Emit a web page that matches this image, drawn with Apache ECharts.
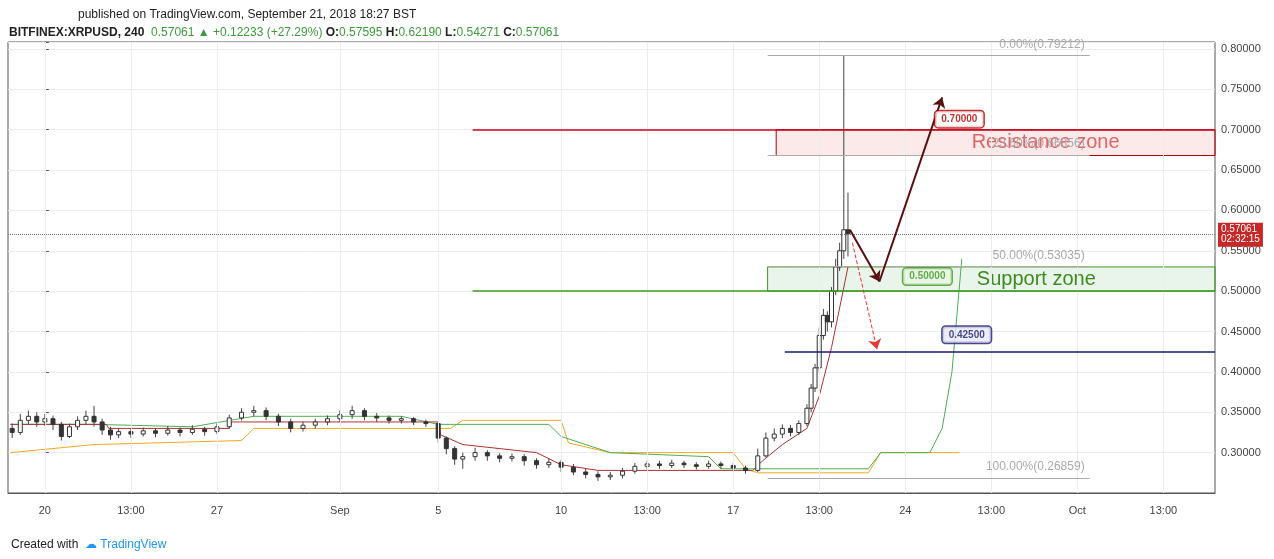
<!DOCTYPE html>
<html><head><meta charset="utf-8">
<script src="https://cdn.jsdelivr.net/npm/echarts@6/dist/echarts.min.js"></script>
<style>html,body{margin:0;background:#fff}#c{width:1274px;height:559px}</style>
</head><body><div id="c"></div>
<script>
// [day since Aug 20, open, close, low, high]
const candles = [
[-1.33,0.330,0.325,0.318,0.336],[-1.0,0.325,0.340,0.322,0.348],[-0.67,0.340,0.345,0.335,0.352],[-0.33,0.345,0.338,0.332,0.350],
[0,0.338,0.342,0.333,0.348],[0.33,0.342,0.335,0.328,0.346],[0.67,0.335,0.320,0.315,0.338],[1.0,0.320,0.332,0.318,0.336],
[1.33,0.332,0.340,0.328,0.345],[1.67,0.340,0.345,0.335,0.352],[2.0,0.345,0.338,0.332,0.358],[2.33,0.338,0.328,0.322,0.342],
[2.67,0.328,0.322,0.316,0.332],[3.0,0.322,0.326,0.318,0.330],[3.5,0.326,0.323,0.318,0.330],[4.0,0.323,0.327,0.320,0.331],
[4.5,0.327,0.324,0.319,0.330],[5.0,0.324,0.328,0.321,0.333],[5.5,0.328,0.325,0.320,0.331],[6.0,0.325,0.329,0.322,0.334],
[6.5,0.329,0.326,0.321,0.332],[7.0,0.326,0.332,0.323,0.336],[7.5,0.332,0.343,0.330,0.347],[8.0,0.343,0.350,0.340,0.355],
[8.5,0.350,0.352,0.345,0.358],[9.0,0.352,0.345,0.340,0.356],[9.5,0.345,0.338,0.333,0.348],[10.0,0.338,0.330,0.325,0.342],
[10.5,0.330,0.334,0.326,0.338],[11.0,0.334,0.338,0.330,0.342],[11.5,0.338,0.342,0.334,0.346],[12.0,0.342,0.347,0.338,0.352],
[12.5,0.347,0.352,0.342,0.358],[13.0,0.352,0.345,0.340,0.355],[13.5,0.345,0.343,0.338,0.349],[14.0,0.343,0.340,0.336,0.346],
[14.5,0.340,0.342,0.336,0.345],[15.0,0.342,0.338,0.334,0.344],[15.5,0.338,0.336,0.332,0.341],[16.0,0.336,0.318,0.312,0.338],
[16.33,0.318,0.305,0.298,0.320],[16.67,0.305,0.292,0.285,0.308],[17.0,0.292,0.295,0.280,0.300],[17.5,0.295,0.300,0.290,0.306],
[18.0,0.300,0.296,0.290,0.303],[18.5,0.296,0.293,0.288,0.299],[19.0,0.293,0.295,0.289,0.299],[19.5,0.295,0.290,0.284,0.298],
[20.0,0.290,0.285,0.280,0.293],[20.5,0.285,0.288,0.281,0.292],[21.0,0.288,0.282,0.276,0.291],[21.5,0.282,0.276,0.272,0.286],
[22.0,0.276,0.273,0.268,0.280],[22.5,0.273,0.270,0.265,0.277],[23.0,0.270,0.272,0.266,0.276],[23.5,0.272,0.277,0.268,0.281],
[24.0,0.277,0.283,0.274,0.287],[24.5,0.283,0.286,0.279,0.290],[25.0,0.286,0.284,0.280,0.290],[25.5,0.284,0.287,0.281,0.291],
[26.0,0.287,0.285,0.281,0.290],[26.5,0.285,0.283,0.279,0.288],[27.0,0.283,0.286,0.280,0.290],[27.5,0.286,0.284,0.280,0.289],
[28.0,0.284,0.281,0.277,0.287],[28.5,0.281,0.278,0.274,0.284],[29.0,0.278,0.296,0.276,0.305],[29.33,0.296,0.318,0.294,0.325],
[29.67,0.318,0.323,0.314,0.330],[30.0,0.323,0.330,0.318,0.335],[30.33,0.330,0.325,0.320,0.334],[30.67,0.325,0.336,0.322,0.340],
[31.0,0.336,0.355,0.333,0.360],[31.17,0.355,0.380,0.350,0.385],[31.33,0.380,0.405,0.375,0.410],[31.5,0.405,0.445,0.400,0.455],
[31.67,0.445,0.470,0.440,0.478],[31.83,0.470,0.462,0.450,0.475],[32.0,0.462,0.500,0.455,0.505],[32.17,0.500,0.530,0.495,0.540],
[32.33,0.530,0.550,0.525,0.560],[32.5,0.550,0.576,0.540,0.792],[32.67,0.576,0.571,0.543,0.622]];
const kijun = [[-1.4,0.335],[2.5,0.335],[2.6,0.330],[7.5,0.330],[7.6,0.338],[16,0.338],[16.1,0.322],[17,0.31],[20,0.30],[21,0.285],[22.5,0.278],[28.8,0.278],[29.2,0.29],[30,0.31],[31,0.33],[31.5,0.37],[32,0.43],[32.67,0.53]];
const spanA = [[-1.4,0.335],[2,0.335],[6,0.332],[8.5,0.345],[14.5,0.345],[16,0.335],[20.5,0.335],[21,0.32],[23,0.30],[27,0.295],[27.5,0.28],[33.5,0.28],[34,0.30],[36,0.30],[36.5,0.33],[36.9,0.40],[37.3,0.54]];
const spanB = [[-1.4,0.30],[2,0.31],[8,0.315],[8.5,0.33],[16.5,0.33],[17,0.34],[21,0.34],[21.3,0.312],[23,0.30],[28,0.30],[28.5,0.28],[29,0.275],[33.5,0.275],[34,0.30],[37.2,0.30]];
const xLabels = {'0.0':'20','3.5':'13:00','7.0':'27','12.0':'Sep','16.0':'5','21.0':'10','24.5':'13:00','28.0':'17','31.5':'13:00','35.0':'24','38.5':'13:00','42.0':'Oct','45.5':'13:00'};
const fib = [[0.79212,'0.00%(0.79212)'],[0.66856,'23.60%(0.66856)'],[0.53035,'50.00%(0.53035)'],[0.26859,'100.00%(0.26859)']];
const levels = [[17.4,0.70,'#d0021b'],[17.4,0.50,'#3d9b1f'],[30.1,0.425,'#1a1a6e']];
const tags = [[37.2,0.713,'0.70000','#b00000','#fff'],[35.9,0.518,'0.50000','#3d9b1f','#eaf6e5'],[37.5,0.446,'0.42500','#1a1a6e','#e8e8f7']];
const lastPrice = 0.57061;

const chart = echarts.init(document.getElementById('c'));
const vgrid = Object.keys(xLabels).map(k=>({xAxis:+k}));
chart.setOption({
  animation:false,
  grid:{left:8,right:59,top:42,bottom:66,show:true,borderColor:'#555'},
  xAxis:{type:'value',min:-1.5,max:47.6,interval:0.5,splitLine:{show:false},axisTick:{show:false},
    axisLine:{lineStyle:{color:'#555'}},
    axisLabel:{color:'#444',fontSize:11,margin:12,showMinLabel:false,showMaxLabel:false,formatter:v=>xLabels[v.toFixed(1)]||''}},
  yAxis:{type:'value',position:'right',min:0.25,max:0.8086,interval:0.05,scale:true,
    axisLine:{show:true,lineStyle:{color:'#555'}},axisTick:{show:true,length:4},
    splitLine:{lineStyle:{color:'#ececec'}},
    axisLabel:{color:'#444',fontSize:11,margin:6,formatter:v=>v<0.26||v>0.805?'':v.toFixed(5)}},
  title:[{text:'published on TradingView.com, September 21, 2018 18:27 BST',left:73,top:4,textStyle:{fontSize:12,fontWeight:'normal',color:'#222'}},
    {text:'BITFINEX:XRPUSD, 240  {g|0.57061 ▲ +0.12233 (+27.29%)} O:{g|0.57595} H:{g|0.62190} L:{g|0.54271} C:{g|0.57061}',left:4,top:22,
     textStyle:{fontSize:12,fontWeight:'bold',color:'#222',rich:{g:{fontSize:12,color:'#3c9b3c',fontWeight:'normal'}}}},
    {text:'Created with  {b|☁ TradingView}',left:6,top:534,textStyle:{fontSize:12,fontWeight:'normal',color:'#222',rich:{b:{color:'#2196f3',fontSize:12}}}}],
  series:[
    {type:'line',data:spanB,symbol:'none',lineStyle:{color:'#f5a623',width:1},z:1,
     markLine:{silent:true,symbol:'none',label:{show:false},lineStyle:{color:'#ececec',type:'solid',width:1},data:vgrid}},
    {type:'line',data:spanA,symbol:'none',lineStyle:{color:'#4caf50',width:1},z:1},
    {type:'line',data:kijun,symbol:'none',lineStyle:{color:'#b03030',width:1},z:2},
    {type:'custom',z:3,data:candles,renderItem:(p,api)=>{
      const d=[api.value(0),api.value(1),api.value(2),api.value(3),api.value(4)];
      const o=api.coord([d[0],d[1]]),c=api.coord([d[0],d[2]]),l=api.coord([d[0],d[3]]),h=api.coord([d[0],d[4]]);
      const up=d[2]>=d[1];
      const w=4;const top=Math.min(o[1],c[1]);const hh=Math.max(1,Math.abs(o[1]-c[1]));
      return {type:'group',children:[
        {type:'line',shape:{x1:o[0],y1:h[1],x2:o[0],y2:l[1]},style:{stroke:'#444',lineWidth:1}},
        {type:'rect',shape:{x:o[0]-w/2,y:top,width:w,height:hh},style:{fill:up?'#fff':'#333',stroke:'#333',lineWidth:1}}]};
    },encode:{x:0,y:[1,2,3,4]},
     markLine:{silent:true,symbol:'none',data:[
       {yAxis:lastPrice,lineStyle:{color:'#777',type:'dotted',width:1},
        label:{position:'end',formatter:'0.57061\n02:32:15',backgroundColor:'#c62828',color:'#fff',fontSize:10,padding:[2,3],distance:3}}]}},
    {type:'line',data:[],z:4,
     markLine:{silent:true,symbol:'none',data:fib.map(f=>[{coord:[29.4,f[0]],lineStyle:{color:'#aaa',width:1,type:'solid'},
        label:{show:true,position:'insideEndTop',formatter:f[1],color:'#aaa',fontSize:12}},{coord:[42.5,f[0]]}])},
     markArea:{silent:true,data:[
       [{coord:[29.75,0.70],itemStyle:{color:'rgba(231,76,76,0.12)',borderColor:'#b00000',borderWidth:1},
         label:{show:true,position:'inside',offset:[50,0],formatter:'Resistance zone',fontSize:20,color:'#e06666'}},{coord:[47.6,0.668]}],
       [{coord:[29.4,0.53],itemStyle:{color:'rgba(76,175,80,0.12)',borderColor:'#3d9b1f',borderWidth:1},
         label:{show:true,position:'inside',offset:[45,0],formatter:'Support zone',fontSize:20,color:'#3d8b1f'}},{coord:[47.6,0.50]}]]}},
    {type:'line',data:[],z:5,
     markLine:{silent:true,symbol:'none',label:{show:false},data:levels.map(l=>[{coord:[l[0],l[1]],lineStyle:{color:l[2],width:1.5,type:'solid'}},{coord:[47.6,l[1]]}])}},
    {type:'lines',coordinateSystem:'cartesian2d',z:6,symbol:['none','arrow'],symbolSize:10,
     data:[{coords:[[32.75,0.576],[33.95,0.512]],lineStyle:{color:'#5a0f0f',width:2,opacity:1}},
           {coords:[[33.95,0.512],[36.5,0.74]],lineStyle:{color:'#5a0f0f',width:2,opacity:1}},
           {coords:[[32.85,0.56],[33.85,0.428]],lineStyle:{color:'#e53935',width:1,type:'dashed',opacity:1}}]},
    {type:'scatter',z:7,symbolSize:0,data:tags.map(t=>({value:[t[0],t[1]],label:{show:true,formatter:t[2],backgroundColor:t[4],borderColor:t[3],borderWidth:1.5,borderRadius:3,padding:[3,6],color:t[4]==='#fff'?'#b00000':t[3],fontSize:10,fontWeight:'bold'}}))}
  ]
});
</script></body></html>
